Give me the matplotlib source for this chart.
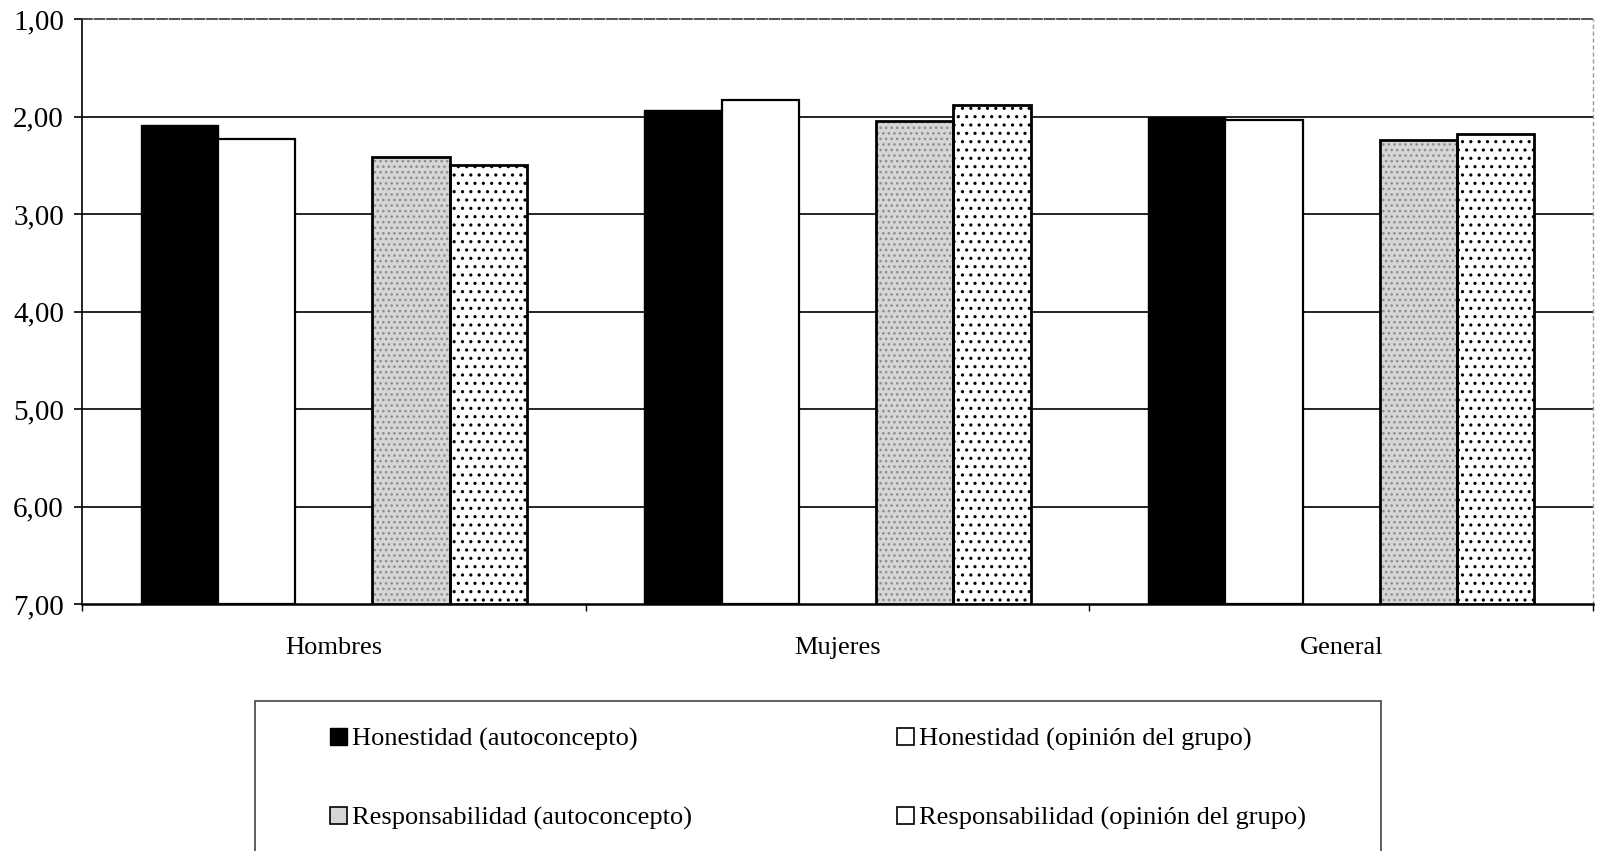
import matplotlib
matplotlib.use("Agg")
import matplotlib.pyplot as plt
import numpy as np
from matplotlib.patches import Patch, Rectangle
from matplotlib.ticker import FuncFormatter, FixedLocator

# ---------------- data ----------------
categories = ["Hombres", "Mujeres", "General"]
series_labels = [
    "Honestidad (autoconcepto)",
    "Honestidad (opinión del grupo)",
    "Responsabilidad (autoconcepto)",
    "Responsabilidad (opinión del grupo)",
]
honestidad_auto = [2.09, 1.93, 2.00]
honestidad_grupo = [2.23, 1.83, 2.04]
responsabilidad_auto = [2.42, 2.05, 2.24]
responsabilidad_grupo = [2.50, 1.88, 2.18]
y_ticks = [1, 2, 3, 4, 5, 6, 7]

# ---------------- style ----------------
W, H = 1598, 851
plt.rcParams['font.family'] = ['Liberation Serif', 'DejaVu Serif']
plt.rcParams['hatch.linewidth'] = 1.1
FS = 19

fig = plt.figure(figsize=(W / 100, H / 100), dpi=100)
fig.patch.set_facecolor('white')
ax = fig.add_axes([82 / W, (H - 604) / H, (1593 - 82) / W, (604 - 19) / H])

x = np.arange(len(categories))
w = 0.1533
base = y_ticks[-1]

def bars(vals):
    return np.asarray(vals, dtype=float) - base

# series 1: black
ax.bar(x - 2 * w, bars(honestidad_auto), w, bottom=base, color='black',
       edgecolor='black', linewidth=1.0, zorder=3)
# series 2: white
ax.bar(x - w, bars(honestidad_grupo), w, bottom=base, color='white',
       edgecolor='black', linewidth=1.6, zorder=3)
# series 3: light gray stipple
ax.bar(x + w, bars(responsabilidad_auto), w, bottom=base, color='#d6d6d6',
       edgecolor='#8f8f8f', hatch='...', linewidth=0, zorder=3)
ax.bar(x + w, bars(responsabilidad_auto), w, bottom=base, fill=False,
       edgecolor='black', linewidth=2.0, zorder=4)
# series 4: white with black dots
ax.bar(x + 2 * w, bars(responsabilidad_grupo), w, bottom=base, color='white',
       edgecolor='black', hatch='..', linewidth=2.0, zorder=3)

# axes limits / grid
ax.set_xlim(-0.5, len(categories) - 0.5)
ax.set_ylim(y_ticks[-1], y_ticks[0])
ax.hlines(y_ticks[1:-1], -0.5, len(categories) - 0.5, colors='black',
          linewidth=1.2, zorder=1)

# y axis
ax.yaxis.set_major_locator(FixedLocator(y_ticks))
ax.yaxis.set_major_formatter(FuncFormatter(lambda v, p: f"{v:.2f}".replace('.', ',')))
ax.tick_params(axis='y', direction='out', length=6, width=1.2, pad=7,
               labelsize=21, colors='black')

# x axis
ax.set_xticks(x)
ax.set_xticklabels(categories, fontsize=FS)
ax.tick_params(axis='x', length=0, pad=24)
ax.set_xticks(np.arange(-0.5, len(categories), 1.0), minor=True)
ax.tick_params(axis='x', which='minor', direction='out', length=5, width=1.0)

# spines
ax.spines['left'].set_linewidth(1.2)
ax.spines['bottom'].set_linewidth(1.8)
ax.spines['top'].set_linewidth(1.2)
ax.spines['top'].set_color('#333333')
ax.spines['top'].set_linestyle((0, (6, 1.5)))
ax.spines['right'].set_linewidth(1.0)
ax.spines['right'].set_color('#9a9a9a')
ax.spines['right'].set_linestyle((0, (2, 3)))

# legend frame (extends below figure bottom, like the reference)
frame = Rectangle((255 / W, 1 - 880 / H), (1381 - 255) / W, (880 - 701) / H,
                  transform=fig.transFigure, fill=False, edgecolor='#444444',
                  linewidth=1.2)
fig.add_artist(frame)

handles = [
    Patch(facecolor='black', edgecolor='black', linewidth=1.0),
    Patch(facecolor='#d6d6d6', edgecolor='black', linewidth=1.2),
    Patch(facecolor='white', edgecolor='black', linewidth=1.2),
    Patch(facecolor='white', edgecolor='black', linewidth=1.2),
]
labels = [series_labels[0], series_labels[2], series_labels[1], series_labels[3]]
fig.legend(handles, labels, loc='upper left',
           bbox_to_anchor=(330 / W, 1 - 728 / H), bbox_transform=fig.transFigure,
           ncol=2, frameon=False, borderpad=0, borderaxespad=0,
           handlelength=0.65, handleheight=0.6, handletextpad=0.2,
           columnspacing=7.75, labelspacing=2.13, fontsize=FS)

fig.savefig("out.png", dpi=100, facecolor='white')
